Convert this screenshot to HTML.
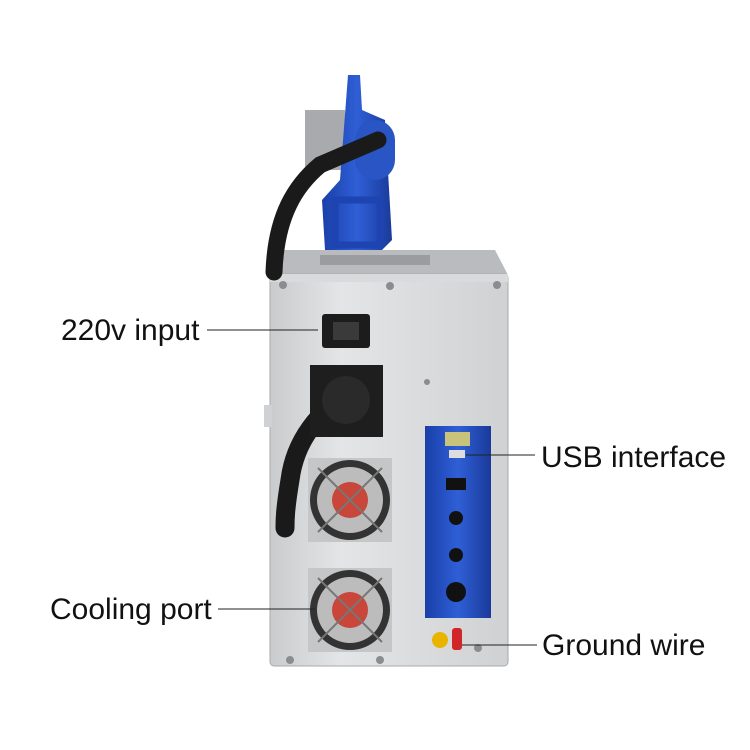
<!DOCTYPE html>
<html><head><meta charset="utf-8"><style>
body{margin:0;background:#fff;}
svg{display:block}
text{font-family:"Liberation Sans",Arial,sans-serif;font-size:30px;fill:#111}
</style></head><body>
<svg width="750" height="750" viewBox="0 0 750 750" xmlns="http://www.w3.org/2000/svg">
<defs>
<linearGradient id="box" x1="0" x2="1">
<stop offset="0" stop-color="#c9cbcd"/><stop offset="0.3" stop-color="#e4e5e6"/><stop offset="1" stop-color="#cfd1d3"/>
</linearGradient>
<linearGradient id="blue" x1="0" x2="1">
<stop offset="0" stop-color="#1a3fa8"/><stop offset="0.5" stop-color="#2f5fd6"/><stop offset="1" stop-color="#1a3a9a"/>
</linearGradient>
</defs>
<polygon points="282,250 495,250 508,275 270,275" fill="#b9bbbe"/>
<rect x="320" y="255" width="110" height="10" fill="#9a9c9f"/>
<rect x="305" y="110" width="40" height="60" fill="#a8aaad"/>
<path d="M348,75 L360,75 L362,110 L385,120 L392,240 L382,250 L325,250 L322,200 L340,180 Z" fill="url(#blue)"/>
<rect x="355" y="120" width="40" height="60" rx="20" fill="#2a55c4"/>
<rect x="335" y="200" width="45" height="45" fill="none" stroke="#1d44b0" stroke-width="7"/>
<rect x="270" y="274" width="238" height="392" rx="4" fill="url(#box)" stroke="#a8aaac"/>
<rect x="270" y="274" width="238" height="8" fill="#d9dadb"/>
<g fill="#8a8c8f">
<circle cx="283" cy="285" r="4"/><circle cx="390" cy="286" r="4"/><circle cx="497" cy="285" r="4"/>
<circle cx="290" cy="660" r="4"/><circle cx="380" cy="660" r="4"/><circle cx="427" cy="382" r="3"/>
<circle cx="478" cy="648" r="4"/>
</g>
<path d="M274,272 C276,215 296,185 320,165 L378,140" fill="none" stroke="#1a1a1a" stroke-width="17" stroke-linecap="round"/>
<path d="M348,395 C320,410 295,440 290,480 C285,510 285,520 285,528" fill="none" stroke="#1a1a1a" stroke-width="19" stroke-linecap="round"/>
<rect x="322" y="314" width="48" height="34" rx="3" fill="#1c1c1c"/>
<rect x="333" y="322" width="26" height="18" fill="#3a3a3a"/>
<rect x="310" y="365" width="73" height="72" fill="#1e1e1e"/>
<circle cx="346" cy="400" r="24" fill="#2a2a2a"/>
<g>
<rect x="308" y="458" width="84" height="84" fill="#c4c6c8"/>
<circle cx="350" cy="500" r="40" fill="#333"/>
<circle cx="350" cy="500" r="33" fill="#bcbcbc"/>
<circle cx="350" cy="500" r="18" fill="#c8463a"/>
<path d="M318,468 L382,532 M382,468 L318,532" stroke="#777" stroke-width="2"/>
<rect x="308" y="568" width="84" height="84" fill="#c4c6c8"/>
<circle cx="350" cy="610" r="40" fill="#333"/>
<circle cx="350" cy="610" r="33" fill="#bcbcbc"/>
<circle cx="350" cy="610" r="18" fill="#c8463a"/>
<path d="M318,578 L382,642 M382,578 L318,642" stroke="#777" stroke-width="2"/>
</g>
<rect x="425" y="426" width="66" height="192" fill="url(#blue)"/>
<rect x="445" y="432" width="25" height="14" fill="#c9c27a"/>
<rect x="449" y="450" width="16" height="8" fill="#ddd"/>
<rect x="446" y="478" width="20" height="12" fill="#111"/>
<circle cx="456" cy="518" r="7" fill="#111"/>
<circle cx="456" cy="555" r="7" fill="#111"/>
<circle cx="456" cy="592" r="10" fill="#111"/>
<circle cx="440" cy="640" r="8" fill="#e8b400"/>
<rect x="452" y="628" width="10" height="22" rx="3" fill="#d0262a"/>
<rect x="264" y="405" width="8" height="22" fill="#cfd1d3"/>
<text x="61" y="340">220v input</text>
<line x1="207" y1="330" x2="318" y2="330" stroke="#222" stroke-width="1"/>
<text x="541" y="467">USB interface</text>
<line x1="466" y1="455" x2="535" y2="455" stroke="#222" stroke-width="1"/>
<text x="50" y="619">Cooling port</text>
<line x1="218" y1="609" x2="315" y2="609" stroke="#222" stroke-width="1"/>
<text x="542" y="655">Ground wire</text>
<line x1="462" y1="645" x2="537" y2="645" stroke="#222" stroke-width="1"/>
</svg>
</body></html>
